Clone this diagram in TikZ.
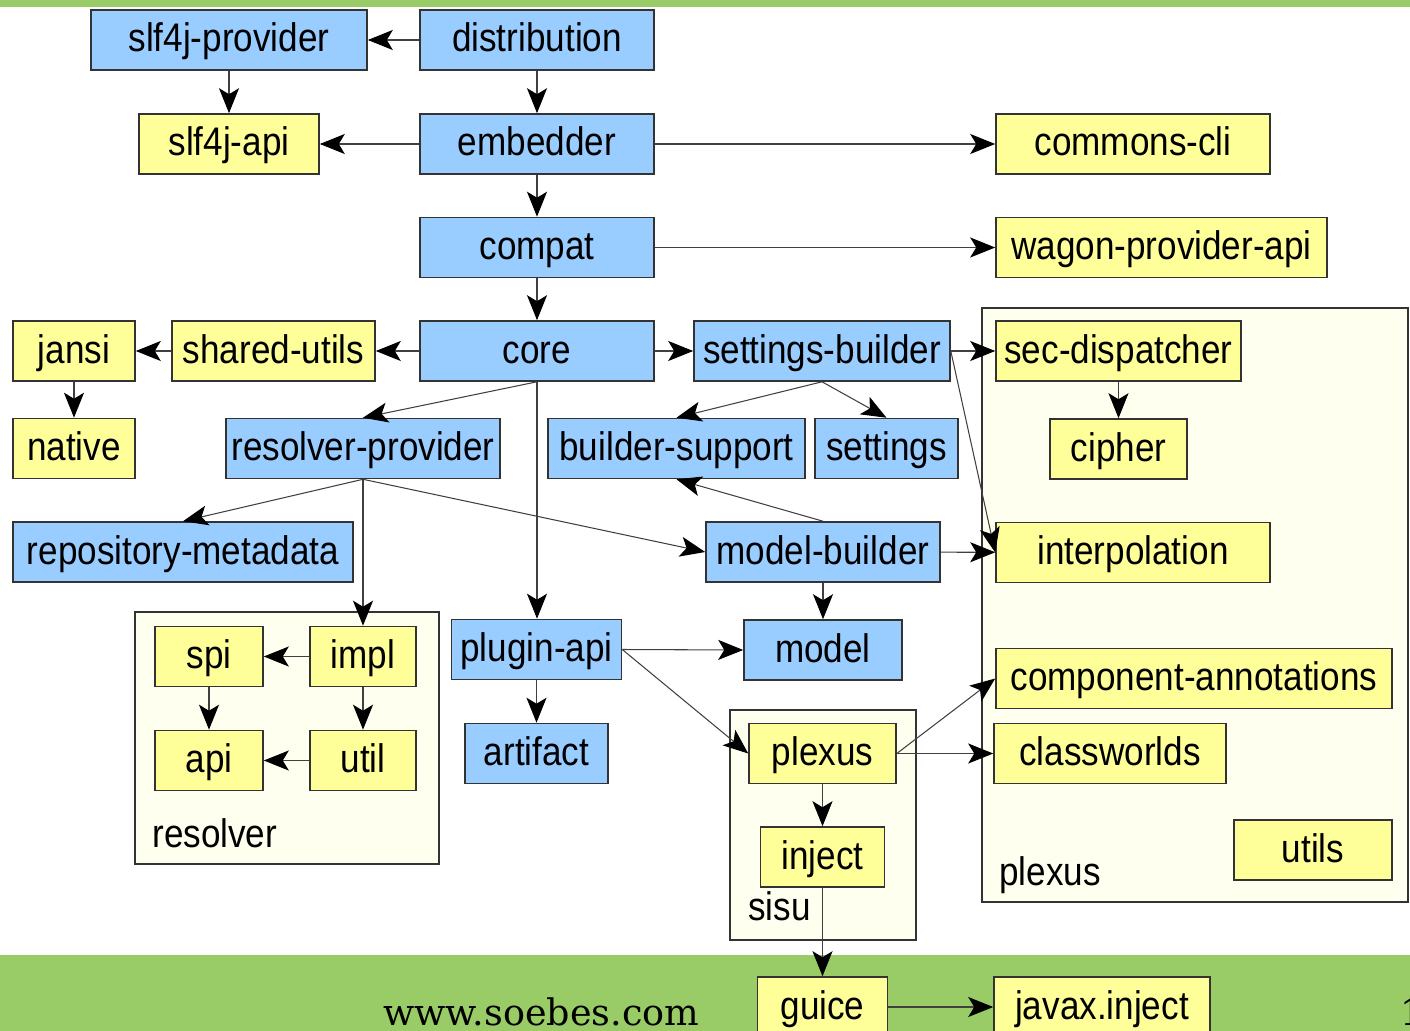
\documentclass[tikz,border=0pt]{standalone}
\usepackage{fontspec}
\setmainfont{Liberation Sans}[FakeStretch=0.88]
\newfontfamily\urlfont{DejaVu Serif}
\usetikzlibrary{arrows.meta}

\definecolor{blu}{HTML}{99CCFF}
\definecolor{ylw}{HTML}{FFFF99}
\definecolor{grpfill}{HTML}{FFFFF0}
\definecolor{barfill}{HTML}{99CC66}
\definecolor{edgegray}{HTML}{333333}

\tikzset{
	box/.style={draw=edgegray, line width=0.9pt, inner sep=0pt,
		minimum height=1.2cm, text height=0.62cm, text depth=0.14cm,
		font=\fontsize{22.7}{27}\selectfont},
	grp/.style={draw=edgegray, line width=0.9pt, fill=grpfill},
	dep/.style={draw=black!75, line width=0.6pt,
		-{Stealth[length=0.5cm,width=0.4cm,inset=0.12cm,black]}},
	lbl/.style={anchor=base west, inner sep=0pt, font=\fontsize{22.7}{27}\selectfont}
}

\begin{document}
\begin{tikzpicture}[x=0.02cm, y=-0.02cm]
\useasboundingbox (0,0) rectangle (1410,1031);

% bars and groups
\fill[barfill] (0,0) rectangle (1410,7);
\fill[barfill] (0,955) rectangle (1410,1031);
\draw[grp] (982,308) rectangle (1408,902);
\draw[grp] (135,612) rectangle (439,864);
\draw[grp] (730,710) rectangle (916,940);

% modules
\foreach \nm/\fc/\cx/\cy/\bw/\tx in {
	slfprov/blu/229/40/276/slf4j-provider,
	dist/blu/537/40/234/distribution,
	slfapi/ylw/229/144/180/slf4j-api,
	emb/blu/537/144/234/embedder,
	cli/ylw/1133/144/274/commons-cli,
	compat/blu/537/247.5/234/compat,
	wagon/ylw/1161.5/247.5/331/wagon-provider-api,
	jansi/ylw/74/351/122/jansi,
	shutils/ylw/273.5/351/203/shared-utils,
	core/blu/537/351/234/core,
	setbld/blu/822/351/256/settings-builder,
	secdisp/ylw/1118.5/351/245/sec-dispatcher,
	native/ylw/74/448.5/122/native,
	resprov/blu/363/448.5/274/resolver-provider,
	bldsup/blu/676.5/448.5/257/builder-support,
	settings/blu/886.5/448.5/143/settings,
	cipher/ylw/1118.5/449/137/cipher,
	repmeta/blu/183/552/340/repository-metadata,
	modbld/blu/823/552/234/model-builder,
	interp/ylw/1133/552.5/274/interpolation,
	spi/ylw/209/656.5/108/spi,
	impl/ylw/363/656.5/106/impl,
	api/ylw/209/760.5/108/api,
	util/ylw/363/760.5/106/util,
	plugapi/blu/536.5/649.5/170/plugin-api,
	artifact/blu/536.5/753.5/143/artifact,
	model/blu/823/650/158/model,
	compann/ylw/1194/678.5/396/component-annotations,
	plexus/ylw/822.5/753.5/147/plexus,
	cworlds/ylw/1110/753.5/232/classworlds,
	inject/ylw/822.5/857/124/inject,
	utils/ylw/1313/850/158/utils,
	guice/ylw/822.5/1007/130/guice,
	javinj/ylw/1102/1007/216/javax.inject}
	\node[box, fill=\fc, minimum width=\bw*0.02cm] (\nm) at (\cx,\cy) {\tx};

% group labels
\node[lbl] (reslbl) at (152,847) {resolver};
\node[lbl] (sisulbl) at (748,920) {sisu};
\node[lbl] (plxlbl) at (999,885) {plexus};

% dependencies
\draw[dep] (dist) -- (slfprov);
\draw[dep] (dist) -- (emb);
\draw[dep] (slfprov) -- (slfapi);
\draw[dep] (emb) -- (slfapi);
\draw[dep] (emb) -- (cli);
\draw[dep] (emb) -- (compat);
\draw[dep] (compat) -- (wagon);
\draw[dep] (compat) -- (core);
\draw[dep] (core) -- (shutils);
\draw[dep] (shutils) -- (jansi);
\draw[dep] (jansi) -- (native);
\draw[dep] (core) -- (setbld);
\draw[dep] (core.south) -- (resprov.north);
\draw[dep] (core.south) -- (core.south |- plugapi.north);
\draw[dep] (setbld) -- (secdisp);
\draw[dep] (setbld.south) -- (bldsup.north);
\draw[dep] (setbld.south) -- (settings.north);
\draw[dep] (setbld.east) -- (interp.west);
\draw[dep] (secdisp) -- (cipher);
\draw[dep] (modbld.north) -- (bldsup.south);
\draw[dep] (modbld) -- (interp);
\draw[dep] (modbld) -- (model);
\draw[dep] (resprov.south) -- (repmeta.north);
\draw[dep] (resprov.south) -- (modbld.west);
\draw[dep] (resprov.south) -- (impl.north);
\draw[dep] (impl) -- (spi);
\draw[dep] (impl) -- (util);
\draw[dep] (spi) -- (api);
\draw[dep] (util) -- (api);
\draw[dep] (plugapi) -- (artifact);
\draw[dep] (plugapi.east) -- (model.west);
\draw[dep] (plugapi.east) -- (plexus.west);
\draw[dep] (plexus.east) -- (compann.west);
\draw[dep] (plexus) -- (cworlds);
\draw[dep] (plexus) -- (inject);
\draw[dep] (inject) -- (guice);
\draw[dep] (guice) -- (javinj);

% footer
\node[anchor=base west, inner sep=0pt, font=\urlfont\fontsize{20.8}{25}\selectfont]
	(url) at (383,1025) {www.soebes.com};
\node[anchor=base west, inner sep=0pt, font=\urlfont\fontsize{20.8}{25}\selectfont]
	(pgno) at (1400,1025) {1};
\end{tikzpicture}
\end{document}
